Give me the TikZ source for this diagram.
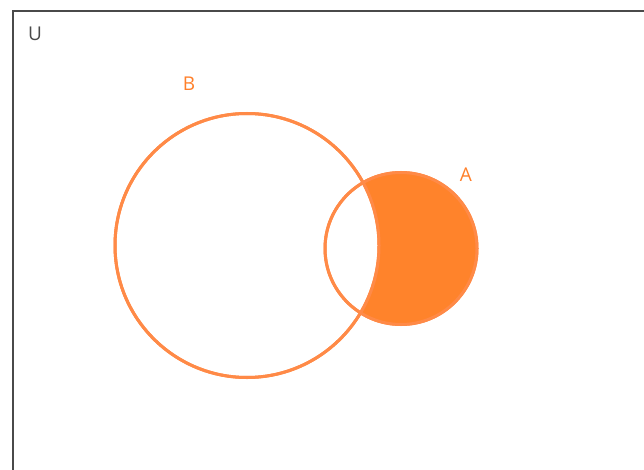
\documentclass[tikz,border=0pt]{standalone}
\usepackage{fontspec}
\setmainfont{Open Sans}
\usepackage{tikz}
\usetikzlibrary{positioning}
\definecolor{ink}{HTML}{4A4A4A}
\definecolor{setline}{HTML}{FF8A47}
\definecolor{setfill}{HTML}{FF832B}
\definecolor{setlbl}{HTML}{FF7F2A}

\begin{document}
\begin{tikzpicture}[
  x=1pt, y=-1pt,
  font=\fontsize{19}{22}\selectfont,
  univ/.style={draw=ink,line width=2pt},
  setcirc/.style={circle,draw=setline,line width=3pt,inner sep=0pt},
  setname/.style={text=setlbl,inner sep=0pt},
  uname/.style={text=ink,inner sep=0pt},
]
\useasboundingbox (0,0) rectangle (644,470);
\clip (0,0) rectangle (644,470);

% --- the universe ------------------------------------------------------------
\draw[univ] (12.5,11) rectangle (700,520);
\node[uname] (u) at (35,34) {U};

% --- the two sets ------------------------------------------------------------
\node[setcirc,minimum size=264pt] (B) at (247,245.5) {};
\node[setcirc,minimum size=152pt] (A) at (401,248.5) {};

% --- shaded part: A minus B --------------------------------------------------
\begin{scope}
  \clip (A.center) circle (76);
  \fill[setfill,even odd rule] (A.center) circle (76) (B.center) circle (132);
\end{scope}
\draw[draw=setline,line width=3pt] (A.center) circle (76);
\draw[draw=setline,line width=3pt] (B.center) circle (132);

% --- labels ------------------------------------------------------------------
\node[setname] (bname) at (189,84) {B};
\node[setname] (aname) at (466,175) {A};
\end{tikzpicture}
\end{document}
